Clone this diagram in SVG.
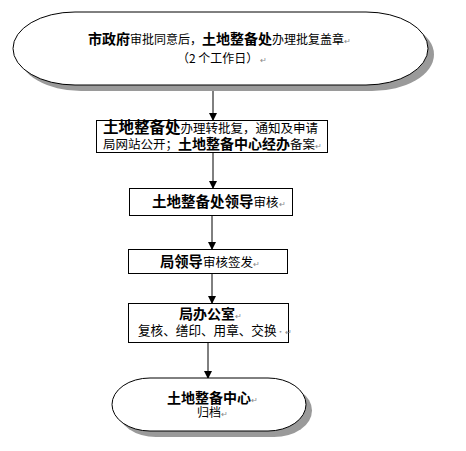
<svg xmlns="http://www.w3.org/2000/svg" width="466" height="451" viewBox="0 0 466 451">
<defs>
<marker id="ah" markerWidth="8" markerHeight="8" refX="7" refY="4" orient="auto" markerUnits="userSpaceOnUse">
<path d="M0,0 L8,4 L0,8 Z" fill="#000"/>
</marker>
<style>
text{font-family:"Noto Sans CJK SC","Noto Sans",sans-serif;fill:#000}
.b{font-weight:bold}
.r{font-size:12.5px}
.pm{font-size:8px;fill:#888}
.box{fill:#fff;stroke:#000;stroke-width:1}
.sh{fill:#9a9a9a}
.ln{stroke:#000;stroke-width:1;fill:none}
</style>
</defs>
<rect width="466" height="451" fill="#fff"/>
<g id="connectors">
<line class="ln" x1="213" y1="85" x2="213" y2="120" marker-end="url(#ah)"/>
<line class="ln" x1="213" y1="153" x2="213" y2="188" marker-end="url(#ah)"/>
<line class="ln" x1="212" y1="216" x2="212" y2="249" marker-end="url(#ah)"/>
<line class="ln" x1="212" y1="274" x2="212" y2="303" marker-end="url(#ah)"/>
<line class="ln" x1="208" y1="343" x2="208" y2="378" marker-end="url(#ah)"/>
</g>
<g id="n1">
<rect class="sh" x="19" y="18" width="415" height="73" rx="62" ry="36.5"/>
<rect class="box" x="13" y="12" width="415" height="73" rx="62" ry="36.5"/>
<text x="88" y="44"><tspan class="b" font-size="14">市政府</tspan><tspan font-size="12">审批同意后，</tspan><tspan class="b" font-size="14">土地整备处</tspan><tspan font-size="12">办理批复盖章</tspan><tspan class="pm">↵</tspan></text>
<text x="177" y="63" font-size="12">（2 个工作日）<tspan class="pm"> ↵</tspan></text>
</g>
<g id="n2">
<rect class="box" x="96.5" y="120.5" width="231" height="32"/>
<text x="103" y="133"><tspan class="b" font-size="15.5">土地整备处</tspan><tspan class="r">办理转批复，通知及申请</tspan></text>
<text x="103" y="148.5"><tspan class="r">局网站公开；</tspan><tspan class="b" font-size="14">土地整备中心经办</tspan><tspan class="r">备案</tspan><tspan class="pm">↵</tspan></text>
</g>
<g id="n3">
<rect class="box" x="129.5" y="188.5" width="163" height="27"/>
<text x="152" y="207"><tspan class="b" font-size="14.5">土地整备处领导</tspan><tspan class="r">审核</tspan><tspan class="pm">↵</tspan></text>
</g>
<g id="n4">
<rect class="box" x="128.5" y="249.5" width="159" height="24"/>
<text x="160" y="267"><tspan class="b" font-size="14.3">局领导</tspan><tspan class="r">审核签发</tspan><tspan class="pm">↵</tspan></text>
</g>
<g id="n5">
<rect class="box" x="128.5" y="303.5" width="160" height="39"/>
<text x="179" y="318.5"><tspan class="b" font-size="14">局办公室</tspan><tspan class="pm">↵</tspan></text>
<text x="138" y="334.5"><tspan font-size="12.6">复核、缮印、用章、交换</tspan><tspan class="pm">·↵</tspan></text>
</g>
<g id="n6">
<rect class="sh" x="118" y="384" width="194" height="53" rx="38" ry="26.5"/>
<rect class="box" x="112" y="378" width="194" height="53" rx="38" ry="26.5"/>
<text x="167" y="402.5"><tspan class="b" font-size="14">土地整备中心</tspan><tspan class="pm">↵</tspan></text>
<text x="197" y="417"><tspan font-size="12">归档</tspan><tspan class="pm">↵</tspan></text>
</g>
</svg>
